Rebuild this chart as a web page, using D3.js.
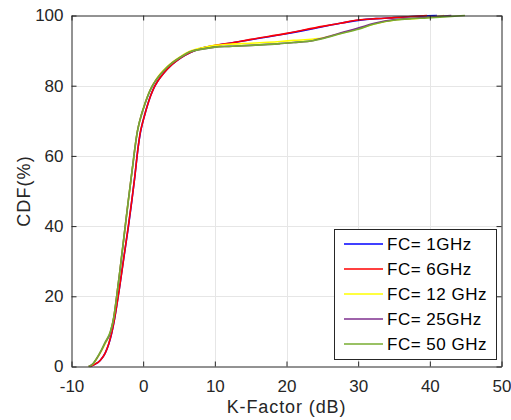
<!DOCTYPE html>
<html>
<head>
<meta charset="utf-8">
<script src="https://cdn.jsdelivr.net/npm/d3@7"></script>
<style>
  html, body { margin: 0; padding: 0; background: #fff; }
  svg { display: block; font-family: "Liberation Sans", Arial, sans-serif; }
</style>
</head>
<body>
<svg id="chart" width="511" height="420"></svg>
<script>
// K-factor CDF per carrier frequency: [K-factor (dB), CDF (%)]
const fc1GHz = [[-7.4,0],[-6.9,0.5],[-6.0,1.7],[-5.3,3.8],[-4.8,6.4],[-4.4,9.4],[-4.0,13.5],[-3.6,18.5],[-3.3,22.5],[-2.7,31],[-2.05,40],[-1.2,53.5],[-0.7,62.5],[-0.4,66.5],[-0.1,69.3],[0.2,71.6],[0.6,74.4],[1.0,76.9],[1.5,79.4],[2.0,81.2],[2.8,83.4],[4.0,86],[5.2,87.9],[6.5,89.4],[8.0,90.6],[10,91.4],[12,92.1],[15,93.1],[20,94.8],[25,96.8],[27.5,97.8],[30,98.6],[32.5,99.1],[35,99.4],[37.5,99.7],[39.6,99.9],[41,100]];
const fc6GHz = [[-7.4,0],[-6.9,0.5],[-6.0,1.7],[-5.3,3.8],[-4.8,6.5],[-4.4,9.5],[-4.0,13.5],[-3.6,18.5],[-3.3,22.5],[-2.7,31],[-2.07,40],[-1.2,53.5],[-0.7,62.5],[-0.42,66.5],[-0.1,69.3],[0.2,71.6],[0.6,74.4],[1.0,76.9],[1.5,79.4],[2.0,81.2],[2.8,83.4],[4.0,86],[5.2,87.9],[6.5,89.4],[8.0,90.6],[10,91.5],[12,92.1],[15,93.2],[20,94.9],[25,96.9],[27.5,97.8],[30,98.7],[32.5,99.1],[35,99.4],[37.5,99.7],[39.6,100]];
const fc12GHz = [[-7.6,0],[-7.0,0.7],[-6.5,2.1],[-5.8,4.5],[-5.3,6.5],[-4.6,9.6],[-4.1,14],[-3.77,18.8],[-3.2,28],[-2.5,40],[-2.07,47.3],[-1.5,56.5],[-1.1,63],[-0.85,66.5],[-0.6,69],[-0.3,71.3],[0.05,73.7],[0.5,76.4],[1.07,79.2],[1.6,81.1],[2.2,82.9],[2.8,84.3],[4.0,86.6],[5.2,88.3],[6.5,89.8],[8.4,90.9],[10,91.5],[12,91.8],[15,92.1],[19.1,92.6],[21,92.9],[23.8,93.3],[25,93.6],[27.5,94.9],[30,96.2],[32.1,97.5],[35.4,98.8],[37.5,99.1],[39.6,99.4],[42,100]];
const fc25GHz = [[-7.6,0],[-7.0,0.8],[-6.5,2.2],[-5.8,4.7],[-5.3,6.8],[-4.6,9.5],[-4.1,14],[-3.77,18.8],[-3.2,28],[-2.5,40],[-2.07,47.3],[-1.5,56.5],[-1.1,63],[-0.85,66.5],[-0.6,69],[-0.3,71.3],[0.05,73.6],[0.5,76.3],[1.07,79.1],[1.6,81],[2.2,82.7],[2.8,84.1],[4.0,86.4],[5.2,88.1],[6.5,89.6],[8.4,90.5],[10,91.0],[12,91.2],[15,91.5],[19.1,92.0],[21,92.3],[23.8,92.9],[25,93.5],[27.5,95.0],[30,96.4],[32.1,97.7],[35.4,98.9],[37.5,99.2],[39.6,99.5],[43,100]];
const fc50GHz = [[-7.6,0],[-7.0,0.8],[-6.5,2.3],[-5.8,4.8],[-5.3,6.9],[-4.6,9.8],[-4.1,14],[-3.77,18.8],[-3.2,28],[-2.5,40],[-2.07,47.3],[-1.5,56.5],[-1.1,63],[-0.85,66.5],[-0.6,69],[-0.3,71.3],[0.05,73.6],[0.5,76.3],[1.07,79.1],[1.6,81],[2.2,82.7],[2.8,84.1],[4.0,86.4],[5.2,88.1],[6.5,89.6],[8.4,90.5],[10,91.0],[12,91.2],[15,91.5],[19.1,92.0],[21,92.3],[23.8,92.9],[25,93.4],[27.5,94.8],[30,96.1],[32.1,97.5],[35.4,98.8],[37.5,99.1],[39.6,99.3],[42,99.6],[44.9,100]];

const seriesNames  = ["FC= 1GHz", "FC= 6GHz", "FC= 12 GHz", "FC= 25GHz", "FC= 50 GHz"];
const seriesData   = [fc1GHz, fc6GHz, fc12GHz, fc25GHz, fc50GHz];
const seriesColors = ["#0000ff", "#ff0000", "#ffff00", "#7e2f8e", "#77ac30"];

const xTicks = [-10, 0, 10, 20, 30, 40, 50];
const yTicks = [0, 20, 40, 60, 80, 100];
const xLabel = "K-Factor (dB)";
const yLabel = "CDF(%)";

// plot frame
const plotLeft = 71.5, plotRight = 501.5, plotTop = 15.5, plotBottom = 366.5;
const axisColor = "#262626";
const fontFamily = '"Liberation Sans", Arial, sans-serif';

const svg = d3.select("#chart");
const x = d3.scaleLinear().domain([-10, 50]).range([plotLeft, plotRight]);
const y = d3.scaleLinear().domain([0, 100]).range([plotBottom, plotTop]);

// grid
const grid = svg.append("g");
grid.selectAll("line.gx").data(xTicks.slice(1, -1)).enter().append("line")
  .attr("x1", d => Math.round(x(d)) + 0.5).attr("x2", d => Math.round(x(d)) + 0.5)
  .attr("y1", plotTop).attr("y2", plotBottom)
  .attr("stroke", "#e6e6e6").attr("stroke-width", 1);
grid.selectAll("line.gy").data(yTicks.slice(1, -1)).enter().append("line")
  .attr("y1", d => Math.round(y(d)) + 0.5).attr("y2", d => Math.round(y(d)) + 0.5)
  .attr("x1", plotLeft).attr("x2", plotRight)
  .attr("stroke", "#e6e6e6").attr("stroke-width", 1);

// curves
const line = d3.line().x(d => x(d[0])).y(d => y(d[1])).curve(d3.curveMonotoneX);
const curves = svg.append("g");
seriesData.forEach((data, i) => {
  curves.append("path").datum(data)
    .attr("d", line)
    .attr("fill", "none")
    .attr("stroke", seriesColors[i])
    .attr("stroke-width", 1.6)
    .attr("stroke-linejoin", "round");
});

// axes (ticks pointing inward, box on all sides)
const plain = d => String(d);
const gx = svg.append("g").attr("transform", `translate(0,${plotBottom})`)
  .call(d3.axisBottom(x).tickValues(xTicks).tickFormat(plain).tickSizeInner(-5).tickSizeOuter(0).tickPadding(13));
const gy = svg.append("g").attr("transform", `translate(${plotLeft},0)`)
  .call(d3.axisLeft(y).tickValues(yTicks).tickFormat(plain).tickSizeInner(-5).tickSizeOuter(0).tickPadding(8));
const gxt = svg.append("g").attr("transform", `translate(0,${plotTop})`)
  .call(d3.axisTop(x).tickValues(xTicks).tickSizeInner(-5).tickSizeOuter(0).tickFormat(""));
const gyr = svg.append("g").attr("transform", `translate(${plotRight},0)`)
  .call(d3.axisRight(y).tickValues(yTicks).tickSizeInner(-5).tickSizeOuter(0).tickFormat(""));

[gx, gy, gxt, gyr].forEach(g => {
  g.select(".domain").attr("stroke", axisColor);
  g.selectAll(".tick line").attr("stroke", axisColor);
  g.selectAll(".tick text").attr("fill", axisColor)
    .style("font-size", "17px")
    .style("font-family", fontFamily);
});

// axis titles
svg.append("text")
  .attr("x", (plotLeft + plotRight) / 2).attr("y", 413)
  .attr("text-anchor", "middle")
  .attr("fill", axisColor)
  .style("font-size", "18px")
  .style("letter-spacing", "0.9px")
  .text(xLabel);
svg.append("text")
  .attr("transform", `translate(30,${(plotTop + plotBottom) / 2}) rotate(-90)`)
  .attr("text-anchor", "middle")
  .attr("fill", axisColor)
  .style("font-size", "18px")
  .style("letter-spacing", "1.1px")
  .text(yLabel);

// legend
const legend = svg.append("g");
legend.append("rect")
  .attr("x", 334.5).attr("y", 229.5).attr("width", 162).attr("height", 130)
  .attr("fill", "#fff").attr("stroke", axisColor).attr("stroke-width", 1);
seriesNames.forEach((name, i) => {
  const cy = 244 + i * 25;
  legend.append("line")
    .attr("x1", 344).attr("x2", 383).attr("y1", cy).attr("y2", cy)
    .attr("stroke", seriesColors[i]).attr("stroke-width", 1.6);
  legend.append("text")
    .attr("x", 387).attr("y", cy).attr("dy", "0.35em")
    .attr("fill", "#000")
    .style("font-size", "17px")
    .style("letter-spacing", "0.5px")
    .text(name);
});
</script>
</body>
</html>
